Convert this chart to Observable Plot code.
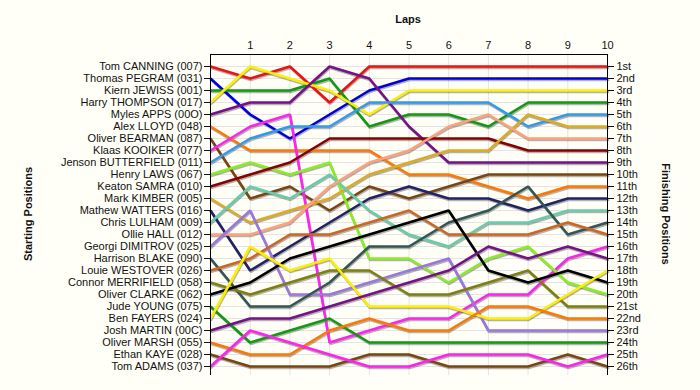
<!DOCTYPE html>
<html><head><meta charset="utf-8">
<script src="https://cdn.jsdelivr.net/npm/d3@7"></script>
<script src="https://cdn.jsdelivr.net/npm/@observablehq/plot@0.6"></script>
<style>
html,body{margin:0;padding:0;background:#fffff7;}
#chart{width:700px;height:390px;}
</style></head><body><div id="chart"></div>
<script>
const laps = [0,1,2,3,4,5,6,7,8,9,10];
const lapTicks = [1,2,3,4,5,6,7,8,9,10];
const rowTicks = d3.range(1, 27);
const starters = [
  "Tom CANNING (007)","Thomas PEGRAM (031)","Kiern JEWISS (001)","Harry THOMPSON (017)",
  "Myles APPS (00O)","Alex LLOYD (048)","Oliver BEARMAN (087)","Klaas KOOIKER (077)",
  "Jenson BUTTERFIELD (011)","Henry LAWS (067)","Keaton SAMRA (010)","Mark KIMBER (005)",
  "Mathew WATTERS (016)","Chris LULHAM (009)","Ollie HALL (012)","Georgi DIMITROV (025)",
  "Harrison BLAKE (090)","Louie WESTOVER (026)","Connor MERRIFIELD (058)","Oliver CLARKE (062)",
  "Jude YOUNG (075)","Ben FAYERS (024)","Josh MARTIN (00C)","Oliver MARSH (055)",
  "Ethan KAYE (028)","Tom ADAMS (037)"
];
const finishLabels = ["1st","2nd","3rd","4th","5th","6th","7th","8th","9th","10th","11th","12th","13th",
  "14th","15th","16th","17th","18th","19th","20th","21st","22nd","23rd","24th","25th","26th"];
const lineColors = [
  "#ee1111","#0000dd","#119911","#ffee00","#771188","#ff7700","#7b4512","#ff22ee",
  "#3399ee","#88ee22","#880000","#ddaa22","#222266","#66ccaa","#ffa07a","#9977dd",
  "#335555","#cc6622","#7f7f11","#000000","#119911","#ffee00","#771188","#ff7700",
  "#7b4512","#ff22ee"
];
// positions per lap 0..10
const pCANNING    = [1,2,1,4,1,1,1,1,1,1,1];
const pPEGRAM     = [2,5,7,5,3,2,2,2,2,2,2];
const pJEWISS     = [3,3,3,2,6,5,5,6,4,4,4];
const pTHOMPSON   = [4,1,2,3,5,3,3,3,3,3,3];
const pAPPS       = [5,4,4,1,2,6,9,9,9,9,9];
const pLLOYD      = [6,8,8,8,8,10,10,11,12,11,11];
const pBEARMAN    = [7,12,11,13,11,12,11,10,10,10,10];
const pKOOIKER    = [8,6,5,24,23,22,22,20,20,17,16];
const pBUTTERFIELD= [9,7,6,6,4,4,4,4,6,5,5];
const pLAWS       = [10,9,10,9,17,17,19,17,16,19,20];
const pSAMRA      = [11,10,9,7,7,7,7,7,8,8,8];
const pKIMBER     = [12,14,13,12,10,9,8,8,5,6,6];
const pWATTERS    = [13,18,16,14,12,11,12,12,13,12,12];
const pLULHAM     = [14,11,12,10,13,15,16,14,14,13,13];
const pHALL       = [15,15,14,11,9,8,6,5,7,7,7];
const pDIMITROV   = [16,13,20,20,19,18,17,23,23,23,23];
const pBLAKE      = [17,21,21,19,16,16,14,13,11,15,14];
const pWESTOVER   = [18,17,15,15,14,13,15,15,15,14,15];
const pMERRIFIELD = [19,20,19,18,18,20,20,19,18,21,21];
const pCLARKE     = [20,19,17,16,15,14,13,18,19,18,19];
const pYOUNG      = [21,24,23,22,24,24,24,24,24,24,24];
const pFAYERS     = [22,16,18,17,21,21,21,22,22,20,18];
const pMARTIN     = [23,22,22,21,20,19,18,16,17,16,17];
const pMARSH      = [24,25,25,23,22,23,23,21,21,22,22];
const pKAYE       = [25,26,26,26,25,25,26,26,26,25,26];
const pADAMS      = [26,23,24,25,26,26,25,25,25,26,25];

const series = [pCANNING,pPEGRAM,pJEWISS,pTHOMPSON,pAPPS,pLLOYD,pBEARMAN,pKOOIKER,pBUTTERFIELD,
  pLAWS,pSAMRA,pKIMBER,pWATTERS,pLULHAM,pHALL,pDIMITROV,pBLAKE,pWESTOVER,pMERRIFIELD,pCLARKE,
  pYOUNG,pFAYERS,pMARTIN,pMARSH,pKAYE,pADAMS];

const data = [];
series.forEach((s, i) => s.forEach((p, j) => data.push({driver: starters[i], lap: laps[j], pos: p, color: lineColors[i]})));

const chart = Plot.plot({
  width: 700, height: 390,
  marginTop: 54, marginLeft: 210, marginRight: 93, marginBottom: 15,
  style: {background: "#fffff7", fontFamily: "'Liberation Sans', Arial, sans-serif", fontSize: "11px", color: "#111", overflow: "visible"},
  x: {domain: [0, 10], range: [210, 607]},
  y: {domain: [1, 26], range: [66, 366]},
  marks: [
    Plot.gridX(lapTicks, {stroke: "#e4e4e4", strokeOpacity: 1}),
    Plot.gridY(rowTicks, {stroke: "#e4e4e4", strokeOpacity: 1}),
    Plot.line(data, {x: "lap", y: "pos", z: "driver", stroke: "#000", strokeOpacity: 0.3, strokeWidth: 2.6, dx: 0.6, dy: 1.4, strokeLinejoin: "miter"}),
    Plot.line(data, {x: "lap", y: "pos", z: "driver", stroke: "color", strokeWidth: 2.6, strokeLinejoin: "miter", strokeLinecap: "butt"}),
    Plot.ruleX([0, 10], {stroke: "#000"}),
    Plot.frame({anchor: "top", stroke: "#000"}),
    Plot.axisX(lapTicks, {anchor: "top", tickSize: 0, tickPadding: 6, label: null}),
    Plot.axisY(rowTicks, {anchor: "left", tickSize: 6, tickPadding: 2, tickFormat: d => starters[d - 1], label: null}),
    Plot.axisY(rowTicks, {anchor: "right", tickSize: 6, tickPadding: 3, tickFormat: d => finishLabels[d - 1], label: null})
  ]
});
document.getElementById("chart").appendChild(chart);
const svg = d3.select(chart);
const tstyle = s => s.attr("font-weight", "bold").attr("font-size", "11px").attr("fill", "#111").attr("text-anchor", "middle");
svg.append("text").attr("x", 408).attr("y", 23).call(tstyle).text("Laps");
svg.append("text").attr("transform", "translate(32,214) rotate(-90)").call(tstyle).text("Starting Positions");
svg.append("text").attr("transform", "translate(662,214) rotate(90)").call(tstyle).text("Finishing Positions");
</script></body></html>
